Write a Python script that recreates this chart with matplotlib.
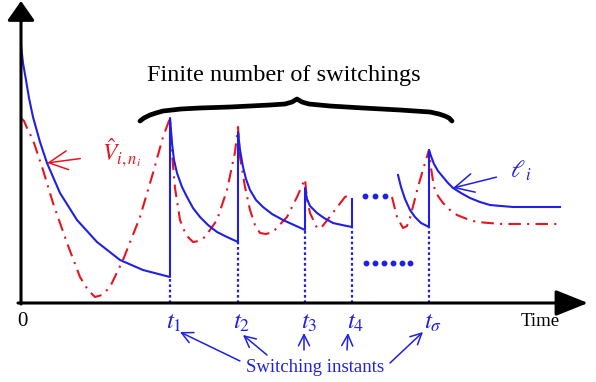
import matplotlib.pyplot as plt
import numpy as np

plt.rcParams['font.family'] = ['Liberation Serif', 'DejaVu Serif']
plt.rcParams['mathtext.fontset'] = 'stix'

BLUE = '#1f1fe6'
RED = '#e8141e'

# switching instants and blue value just before each switch
t_switch = [149, 217, 284, 331, 408]
t_labels = ['$t_1$', '$t_2$', '$t_3$', '$t_4$', r'$t_\sigma$']
v_before = [26, 61, 73, 76, 76]

# blue curve (l_i), first part up to t4, then the part around t_sigma
blue1_t = [0, 2, 5, 8, 12, 19, 26, 39, 56, 76, 99, 122, 149,
           149, 151, 153, 156, 161, 166, 172, 179, 187, 196, 206, 217,
           217, 219, 222, 225, 229, 235, 242, 251, 262, 273, 284,
           284, 286, 289, 296, 303, 312, 321, 331, 331]
blue1_v = [258, 240, 223, 205, 186, 161, 140, 110, 83, 61, 43, 33, 26,
           185, 160, 143, 130, 116, 106, 95, 86, 78, 71, 66, 61,
           171, 153, 136, 124, 113, 103, 96, 89, 83, 78, 73,
           115, 104, 97, 90, 85, 80, 78, 76, 104]
blue2_t = [377, 380, 384, 389, 394, 400, 408, 408, 410, 413, 417, 422, 427,
           432, 440, 449, 459, 469, 480, 492, 510, 539]
blue2_v = [128, 116, 104, 93, 86, 80, 76, 153, 147, 139, 132, 126, 120,
           115, 110, 105, 101, 98, 97, 96, 96, 96]

# red curve (V hat)
red1_t = [0, 3, 6, 12, 22, 32, 46, 59, 67, 74, 81, 89, 102, 119, 132, 142, 149,
          151, 154, 159, 165, 172, 178, 184, 196, 206, 214, 217,
          219, 224, 229, 234, 239, 245, 252, 266, 276, 284,
          286, 289, 296, 300, 304, 314, 324, 328]
red1_v = [185, 182, 175, 163, 133, 100, 60, 26, 13, 6, 8, 16, 43, 86, 130, 166, 185,
          150, 115, 83, 68, 61, 62, 66, 83, 113, 151, 176,
          146, 116, 93, 78, 70, 69, 71, 86, 106, 124,
          104, 90, 75, 75, 80, 93, 106, 108]
red2_t = [371, 376, 382, 386, 389, 397, 404, 408, 410, 413, 417, 422, 429, 436,
          446, 456, 468, 482, 510, 539]
red2_v = [106, 86, 75, 77, 85, 116, 140, 153, 135, 116, 107, 100, 93, 88,
          84, 81, 80, 79, 79, 79]

# ellipsis dots
dots_up_t = [344, 354, 364]
dots_up_v = [107, 107, 107]
dots_lo_t = [345, 354, 363, 372, 381, 389]
dots_lo_v = [40, 40, 40, 40, 40, 40]

# brace over the switching region
brace_t = [119, 123, 129, 135, 142, 160, 179, 209, 249, 264, 271, 276, 281, 288, 309, 342, 379, 409, 418, 424, 428, 431]
brace_v = [182, 185, 188, 190, 192, 194, 195, 196, 198, 199, 201, 204, 201, 199, 197, 195, 193, 191, 189, 187, 185, 182]

fig = plt.figure(figsize=(5.96, 3.82), dpi=100)
ax = fig.add_axes([0, 0, 1, 1])
ax.set_xlim(-21, 575)
ax.set_ylim(-79, 303)
ax.axis('off')

# axes with arrows
ax.annotate('', xy=(567, 0), xytext=(-3, 0),
            arrowprops=dict(arrowstyle='-|>,head_length=1.0,head_width=0.4',
                            lw=2.2, color='k', mutation_scale=20, shrinkA=0, shrinkB=0))
ax.annotate('', xy=(0, 302), xytext=(0, -1),
            arrowprops=dict(arrowstyle='-|>,head_length=0.6,head_width=0.42',
                            lw=2.2, color='k', mutation_scale=20, shrinkA=0, shrinkB=0))

ax.plot(red1_t, red1_v, color=RED, lw=1.5, linestyle=(0, (6, 3, 1, 3)))
ax.plot(red2_t, red2_v, color=RED, lw=1.5, linestyle=(0, (6, 3, 1, 3)))
ax.plot(blue1_t, blue1_v, color=BLUE, lw=1.5)
ax.plot(blue2_t, blue2_v, color=BLUE, lw=1.5)

for ts, vb in zip(t_switch, v_before):
    ax.plot([ts, ts], [0, vb], color=BLUE, lw=1.6, linestyle=(0, (1.2, 1.2)))

ax.plot(dots_up_t, dots_up_v, 'o', color=BLUE, ms=3.2)
ax.plot(dots_lo_t, dots_lo_v, 'o', color=BLUE, ms=3.2)

ax.plot(brace_t, brace_v, color='k', lw=3.4, solid_capstyle='round', solid_joinstyle='round')
ax.text(263, 228, 'Finite number of switchings', fontsize=17.5, ha='center', va='center')

# tick labels
ax.text(1, -19, '0', fontsize=15, ha='center', va='center')
for ts, lab in zip(t_switch, t_labels):
    ax.text(ts + 4, -20, lab, fontsize=18, color=BLUE, ha='center', va='center')
ax.text(519, -19, 'Time', fontsize=13.5, ha='center', va='center')

# annotations
ax.annotate(r'$\hat{V}_{i,n_i}$', xy=(26, 140), xytext=(101, 150), color=RED,
            fontsize=17, ha='center', va='center',
            arrowprops=dict(arrowstyle='->,head_length=0.8,head_width=0.4', color=RED,
                            lw=1.1, shrinkA=14, shrinkB=0))
ax.annotate(r'$\ell_{\,i}$', xy=(432, 115), xytext=(500, 132), color=BLUE,
            fontsize=17, ha='center', va='center',
            arrowprops=dict(arrowstyle='->,head_length=0.8,head_width=0.4', color=BLUE,
                            lw=1.1, shrinkA=8, shrinkB=0))

ax.text(294, -65, 'Switching instants', fontsize=13.5, color=BLUE, ha='center', va='center')
arr_from = [(219, -58), (246, -52), (283, -47), (326, -47), (369, -60)]
arr_to = [(159, -29), (222, -32), (283, -30), (327, -30), (402, -29)]
for a, b in zip(arr_from, arr_to):
    ax.annotate('', xy=b, xytext=a,
                arrowprops=dict(arrowstyle='->,head_length=0.8,head_width=0.4', color=BLUE,
                                lw=1.1, shrinkA=0, shrinkB=0))

fig.savefig('out.png', dpi=100)
